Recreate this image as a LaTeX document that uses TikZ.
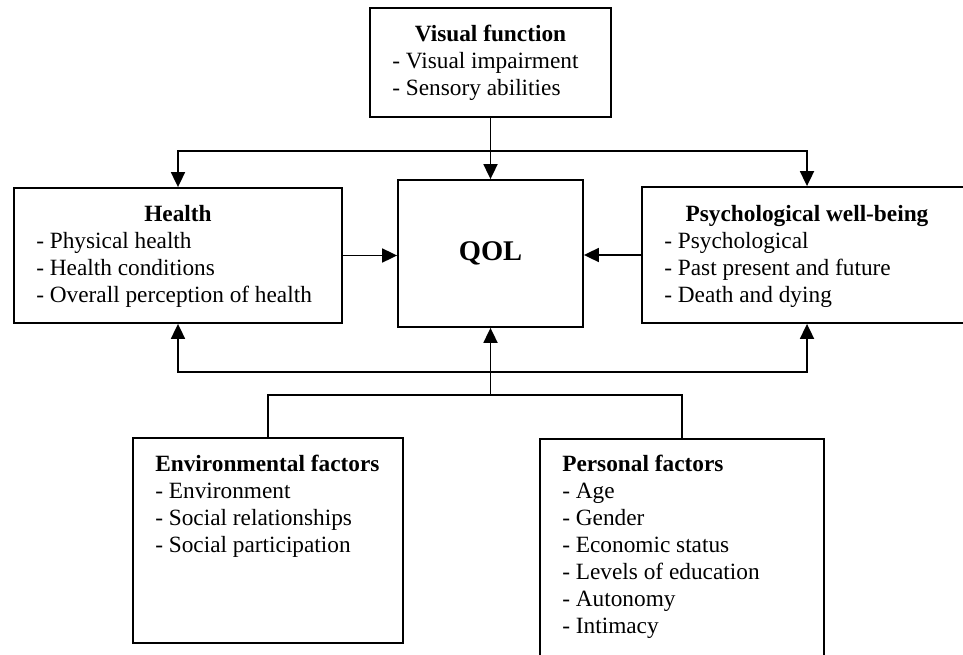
\documentclass[tikz,border=0pt]{standalone}
\usepackage{fontspec}
\setmainfont{Liberation Serif}
\usetikzlibrary{arrows.meta,calc}
\newcommand{\linew}{1.8pt}

\begin{document}
\begin{tikzpicture}[x=1pt,y=1pt,
  box/.style={draw,line width=\linew,rectangle,inner sep=0pt},
  txt/.style={inner sep=0pt,anchor=north west,align=left,
    font=\fontsize{23.3}{27}\selectfont},
  head/.style={inner sep=0pt,anchor=north,
    font=\fontsize{23.3}{27}\selectfont\bfseries},
  arr/.style={line width=\linew,-{Triangle[length=15pt,width=14pt]}},
  link/.style={line width=\linew}]
\useasboundingbox (0,0) rectangle (963,-655);
\clip (0,0) rectangle (963,-655);
% boxes
\node[box,minimum width=241,minimum height=109] (vis) at (490.5,-62.5) {};
\node[box,minimum width=328,minimum height=135] (health) at (178,-255.5) {};
\node[box,minimum width=185,minimum height=147] (qol) at (490.5,-253.5)
  {\fontsize{28.5}{30}\selectfont\textbf{QOL}};
\node[box,minimum width=330,minimum height=136] (psych) at (807,-255) {};
\node[box,minimum width=270,minimum height=205] (env) at (268,-540.5) {};
\node[box,minimum width=284,minimum height=231] (pers) at (682,-554.5) {};
% titles
\node[head] (vishead) at ([yshift=-18]vis.north) {Visual function};
\node[head] (healthhead) at ([yshift=-18]health.north) {Health};
\node[head] (psychhead) at ([yshift=-19]psych.north) {Psychological well-being};
% items
\node[txt] (vistxt) at ([shift={(23,-45)}]vis.north west)
  {- Visual impairment\\- Sensory abilities};
\node[txt] (healthtxt) at ([shift={(23,-45)}]health.north west)
  {- Physical health\\- Health conditions\\- Overall perception of health};
\node[txt] (psychtxt) at ([shift={(23,-46)}]psych.north west)
  {- Psychological\\- Past present and future\\- Death and dying};
\node[txt] (envtxt) at ([shift={(23,-18)}]env.north west)
  {\textbf{Environmental factors}\\- Environment\\- Social relationships\\- Social participation};
\node[txt] (perstxt) at ([shift={(23,-17)}]pers.north west)
  {\textbf{Personal factors}\\- Age\\- Gender\\- Economic status\\- Levels of education\\- Autonomy\\- Intimacy};
% bars
\coordinate (topbar) at (0,-151);
\coordinate (lowbar) at (0,-372);
\coordinate (basebar) at (0,-395);
% connectors
\draw[arr] (vis.south) -- (qol.north);
\draw[arr] (vis.south |- topbar) -| (health.north);
\draw[arr] (vis.south |- topbar) -| (psych.north);
\draw[arr] (health.east) -- (health.east -| qol.west);
\draw[arr] (psych.west) -- (psych.west -| qol.east);
\draw[link] (env.north) -- (env.north |- basebar) -| (pers.north);
\draw[arr] (qol.south |- basebar) -- (qol.south);
\draw[arr] (qol.south |- lowbar) -| (health.south);
\draw[arr] (qol.south |- lowbar) -| (psych.south);
\end{tikzpicture}
\end{document}
